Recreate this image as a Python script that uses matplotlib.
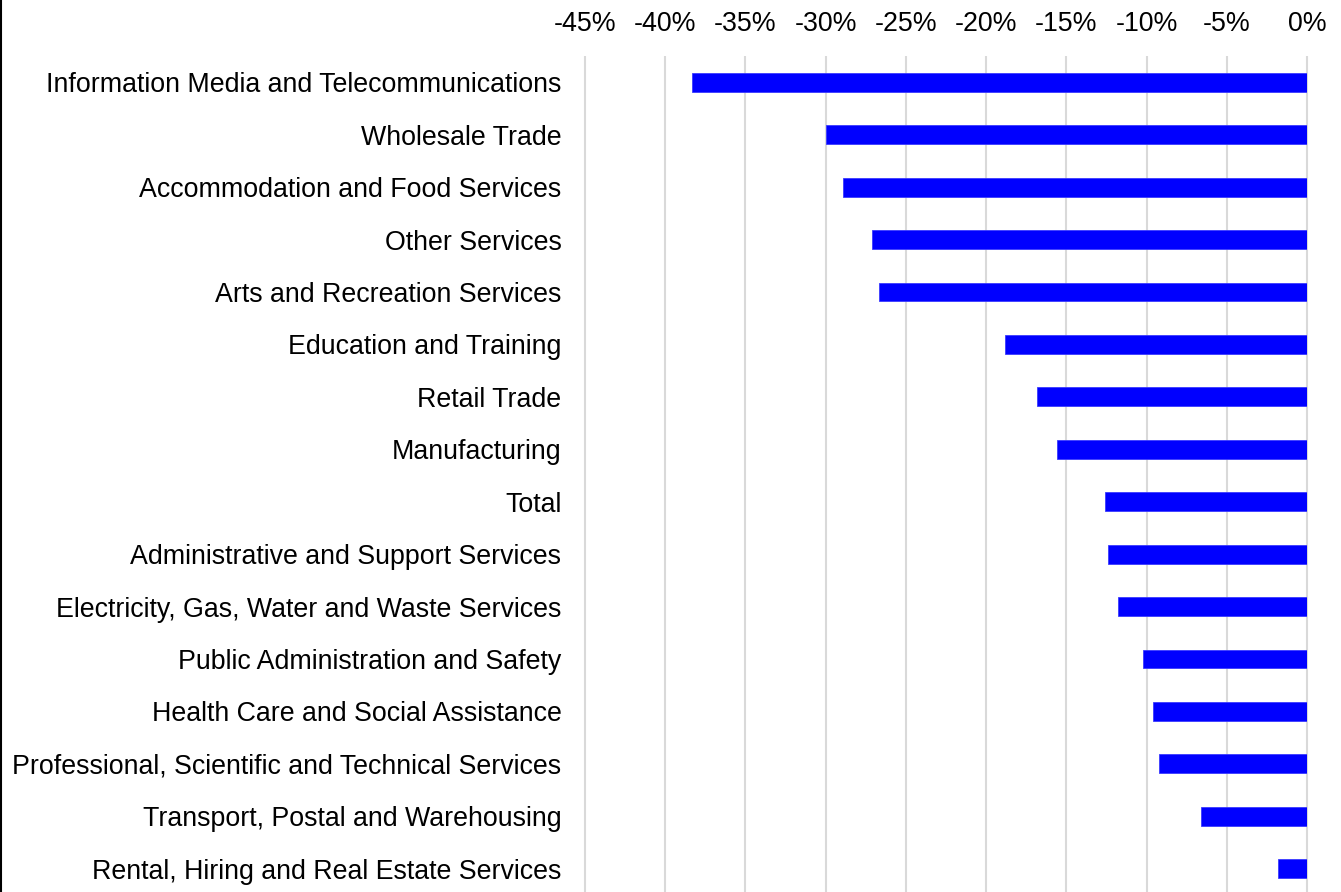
import numpy as np
import matplotlib
matplotlib.use("Agg")
import matplotlib.pyplot as plt
from matplotlib.lines import Line2D

plt.rcParams['font.family'] = ['Liberation Sans', 'DejaVu Sans']

industries = [
    "Information Media and Telecommunications",
    "Wholesale Trade",
    "Accommodation and Food Services",
    "Other Services",
    "Arts and Recreation Services",
    "Education and Training",
    "Retail Trade",
    "Manufacturing",
    "Total",
    "Administrative and Support Services",
    "Electricity, Gas, Water and Waste Services",
    "Public Administration and Safety",
    "Health Care and Social Assistance",
    "Professional, Scientific and Technical Services",
    "Transport, Postal and Warehousing",
    "Rental, Hiring and Real Estate Services",
]
change_pct = [-38.3, -30.0, -28.9, -27.1, -26.7, -18.8, -16.8, -15.6,
              -12.6, -12.4, -11.8, -10.2, -9.6, -9.2, -6.6, -1.8]
x_ticks = [-45, -40, -35, -30, -25, -20, -15, -10, -5, 0]
x_tick_labels = ["-45%", "-40%", "-35%", "-30%", "-25%", "-20%", "-15%", "-10%", "-5%", "0%"]

W, H = 1341, 892
fig = plt.figure(figsize=(W / 100, H / 100), dpi=100)
ax = fig.add_axes([585 / W, 1 - 895 / H, (1307 - 585) / W, (895 - 56) / H])

y = np.arange(len(industries))
ax.barh(y, change_pct, height=0.36, color="#0000ff", edgecolor="#3a3aff", linewidth=0.6, zorder=3)

ax.set_xlim(-45, 0)
ax.set_ylim(len(industries) - 0.5, -0.5)
ax.set_yticks(y)
ax.set_yticklabels(industries, fontsize=19.3)
ax.set_xticks(x_ticks)
ax.set_xticklabels(x_tick_labels, fontsize=19.3)
ax.xaxis.tick_top()
ax.tick_params(axis="x", length=0, pad=13.5)
ax.tick_params(axis="y", length=0, pad=17)
# gridlines drawn unclipped so the edge lines are full width
ax.vlines(x_ticks, -0.5, len(industries) - 0.5, colors="#d9d9d9", linewidth=1.5, zorder=0, clip_on=False)
for s in ax.spines.values():
    s.set_visible(False)

fig.add_artist(Line2D([0.6 / W, 0.6 / W], [0, 1], color="black", linewidth=1.5, transform=fig.transFigure))

fig.savefig("out.png", dpi=100)
